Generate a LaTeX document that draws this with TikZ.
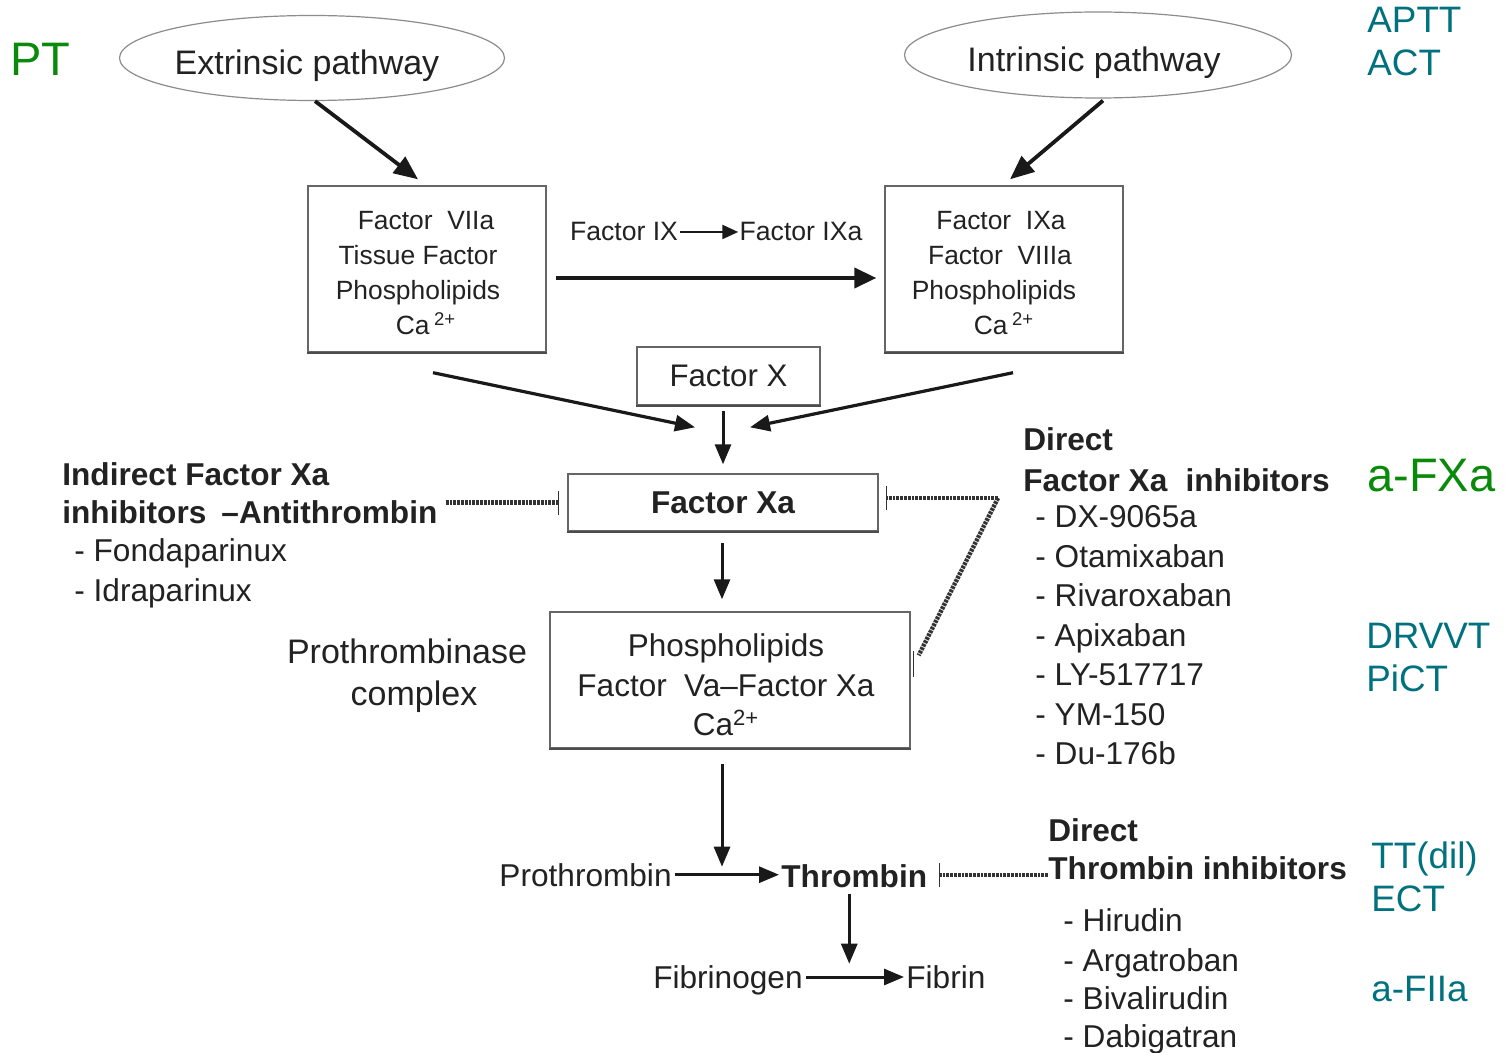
\documentclass[tikz,border=0pt]{standalone}
\usepackage{fontspec}
\setmainfont{Liberation Sans}
\usetikzlibrary{arrows.meta,shapes.geometric,calc}
\definecolor{tc}{HTML}{222222}
\definecolor{grn}{HTML}{0A8A0A}
\definecolor{teal2}{HTML}{00717F}
\begin{document}
\begin{tikzpicture}[x=0.5pt,y=-0.5pt,
  txt/.style={inner sep=0pt, text=tc, font=\fontsize{15.8pt}{19pt}\selectfont},
  btxt/.style={inner sep=0pt, text=tc, font=\fontsize{15.8pt}{19pt}\selectfont\bfseries},
  grntxt/.style={inner sep=0pt, text=grn, font=\fontsize{23.5pt}{28pt}\selectfont},
  tealtxt/.style={inner sep=0pt, text=teal2, font=\fontsize{18.4pt}{22pt}\selectfont},
  ellip/.style={ellipse, draw=black!45, line width=0.6pt, inner sep=0pt, text=tc, font=\fontsize{17pt}{20pt}\selectfont},
  fbox/.style={rectangle, draw=black!60, line width=0.7pt, inner sep=0pt, text=tc, align=center},
  boxtext/.style={inner sep=0pt, text=tc, align=center},
  boxbottom/.style={draw=black!70, line width=1.1pt},
  arr/.style={draw=black!90, line width=1.5pt, -{Triangle[length=10pt,width=8pt]}},
  inhib/.style={draw=black!80, line width=2.2pt, dash pattern=on 1.4pt off 0.5pt},
  tbarend/.style={-{Bar[width=12pt,line width=0.7pt]}},
  tbar/.style={draw=black!80, line width=0.7pt},
]
\fill[white] (0,0) rectangle (1509,1053);
\useasboundingbox (0,0) rectangle (1509,1053);

% top labels
\node[grntxt, anchor=base west] (pt) at (10,76) {PT};
\node[tealtxt, anchor=base west] (aptt) at (1367,33) {APTT};
\node[tealtxt, anchor=base west] (act) at (1367,76) {ACT};

% pathways
\node[ellip, minimum width=192.5pt, minimum height=42.5pt] (ext) at (312,58)
  {\raisebox{-8.5pt}[0pt][0pt]{\hspace*{-5pt}Extrinsic pathway}};
\node[ellip, minimum width=193.5pt, minimum height=43pt] (int) at (1098,55)
  {\raisebox{-8.5pt}[0pt][0pt]{\hspace*{-4pt}Intrinsic pathway}};

% complexes
\node[fbox, minimum width=119pt, minimum height=83pt] (b1) at (427,269) {};
\node[boxtext, font=\fontsize{13.2pt}{17.5pt}\selectfont] (b1t) at ($(b1.center)+(-9,4)$)
  {\hspace*{8pt}Factor\ \ VIIa\\Tissue Factor\\Phospholipids\\\hspace*{8pt}Ca\,\textsuperscript{2+}};
\node[fbox, minimum width=119pt, minimum height=83pt] (b2) at (1004,269) {};
\node[boxtext, font=\fontsize{13.2pt}{17.5pt}\selectfont] (b2t) at ($(b2.center)+(-10,4)$)
  {\hspace*{7pt}Factor\ \ IXa\\\hspace*{6pt}Factor\ \ VIIIa\\Phospholipids\\\hspace*{10pt}Ca\,\textsuperscript{2+}};
\draw[boxbottom] (b1.south west) -- (b1.south east);
\draw[boxbottom] (b2.south west) -- (b2.south east);

\node[txt, font=\fontsize{13.3pt}{16pt}\selectfont, anchor=base] (f9) at (624,241) {Factor IX};
\node[txt, font=\fontsize{13.3pt}{16pt}\selectfont, anchor=base] (f9a) at (801,241) {Factor IXa};
\draw[arr, line width=1.2pt, -{Triangle[length=8pt,width=7pt]}] ($(f9.east)+(2,0)$) -- ($(f9a.west)+(-1,0)$);

\draw[arr, line width=2pt, -{Triangle[length=11pt,width=10pt]}] ($(b1.east)+(9,9)$) -- ($(b2.west)+(-8,9)$);

\draw[arr, line width=1.9pt, -{Triangle[length=12pt,width=10pt]}] ($(ext.south)+(3,0)$) -- ($(b1.north)+(-9,-6)$);
\draw[arr, line width=1.9pt, -{Triangle[length=12pt,width=10pt]}] ($(int.south)+(5,2)$) -- ($(b2.north)+(6,-6)$);

% Factor X and Xa
\node[fbox, minimum width=91.5pt, minimum height=29pt, font=\fontsize{15.6pt}{19pt}\selectfont] (fx) at (728.5,376) {Factor X};
\node[fbox, minimum width=155pt, minimum height=28.5pt, font=\fontsize{15.8pt}{19pt}\selectfont\bfseries] (fxa) at (723,502.5) {Factor Xa};
\draw[boxbottom] (fx.south west) -- (fx.south east);
\draw[boxbottom] (fxa.south west) -- (fxa.south east);

\draw[arr, line width=1.6pt] ($(b1.south)+(6,20)$) -- ($(fxa.north)+(-28,-46)$);
\draw[arr, line width=1.6pt] ($(b2.south)+(9,20)$) -- ($(fxa.north)+(27,-46)$);
\draw[arr] ($(fx.south -| fxa.north)+(0,5)$) -- ($(fxa.north)+(0,-9)$);

% prothrombinase
\node[fbox, minimum width=180pt, minimum height=68pt] (pro) at (730,680) {};
\node[boxtext, font=\fontsize{15.75pt}{19.75pt}\selectfont] (prot) at ($(pro.center)+(-4,5)$)
  {Phospholipids\\Factor\ \ Va–Factor Xa\\Ca\textsuperscript{2+}};
\draw[boxbottom] (pro.south west) -- (pro.south east);
\node[txt, font=\fontsize{17pt}{21pt}\selectfont, align=center, anchor=north] (pc) at (407,638) {Prothrombinase\\\hspace*{7pt}complex};
\draw[arr] ($(fxa.south)+(-1,11)$) -- ($(fxa.south |- pro.north)+(-1,-12)$);

% indirect inhibitors
\node[btxt, anchor=base west] (ind1) at (62,485) {Indirect Factor Xa};
\node[btxt, anchor=base west] (ind2) at (62,523) {inhibitors\hspace{0.2em}\ –Antithrombin};
\node[txt, anchor=base west] (fon) at (74,561) {- Fondaparinux};
\node[txt, anchor=base west] (idr) at (74,601) {- Idraparinux};
\draw[inhib, tbarend] ($(ind2.east |- fxa.west)+(8,0)$) -- ($(fxa.west)+(-8,0)$);

% direct FXa inhibitors
\node[btxt, anchor=base west] (dfx1) at (1023,451) {Direct};
\node[btxt, anchor=base west] (dfx2) at (1023,491) {Factor Xa\hspace{0.3em}\ inhibitors};
\foreach \t/\y [count=\i] in {DX-9065a/527, Otamixaban/567, Rivaroxaban/606, Apixaban/646, LY-517717/685, YM-150/725, Du-176b/764}
  \node[txt, anchor=base west] (dl\i) at (1035,\y) {- \t};
\node[grntxt, anchor=base west] (afxa) at (1367,491) {a-FXa};
\node[tealtxt, anchor=base west] (drvvt) at (1366,648) {DRVVT};
\node[tealtxt, anchor=base west] (pict) at (1366,691) {PiCT};

\coordinate (dxs) at (998,498);
\draw[inhib, tbarend] (dxs) -- ($(fxa.east |- dxs)+(7,0)$);
\draw[inhib] (dxs) -- ($(pro.north east)+(8,44)$);
\draw[tbar] ($(pro.north east)+(3,40)$) -- ++(0,26);

% thrombin
\draw[arr] ($(pro.south)+(-8,15)$) -- ($(pro.south)+(-8,118)$);
\node[txt, anchor=base east] (proth) at (672,886) {Prothrombin};
\node[btxt, anchor=base west] (thr) at (781,887) {Thrombin};
\draw[arr] ($(proth.east)+(3,0)$) -- ($(proth.east -| thr.west)+(-2,0)$);

\node[btxt, anchor=base west] (dth1) at (1048,841) {Direct};
\node[btxt, anchor=base west] (dth2) at (1048,879) {Thrombin inhibitors};
\foreach \t/\y [count=\i] in {Hirudin/931, Argatroban/971, Bivalirudin/1009, Dabigatran/1047}
  \node[txt, anchor=base west] (tl\i) at (1063,\y) {- \t};
\draw[inhib, tbarend] ($(dth2.west |- thr.east)+(0,-1)$) -- ($(thr.east)+(11,-1)$);

\node[tealtxt, anchor=base west] (ttdil) at (1371,868) {TT(dil)};
\node[tealtxt, anchor=base west] (ect) at (1371,911) {ECT};
\node[tealtxt, anchor=base west] (afiia) at (1371,1001) {a-FIIa};

% fibrin
\draw[arr] ($(thr.south)+(-5,6)$) -- ($(thr.south)+(-5,76)$);
\node[txt, anchor=base east] (fbg) at (803,988) {Fibrinogen};
\node[txt, anchor=base west] (fib) at (906,988) {Fibrin};
\draw[arr] ($(fbg.base east)+(3,-11)$) -- ($(fbg.base east -| fib.west)+(-2,-11)$);
\end{tikzpicture}
\end{document}
